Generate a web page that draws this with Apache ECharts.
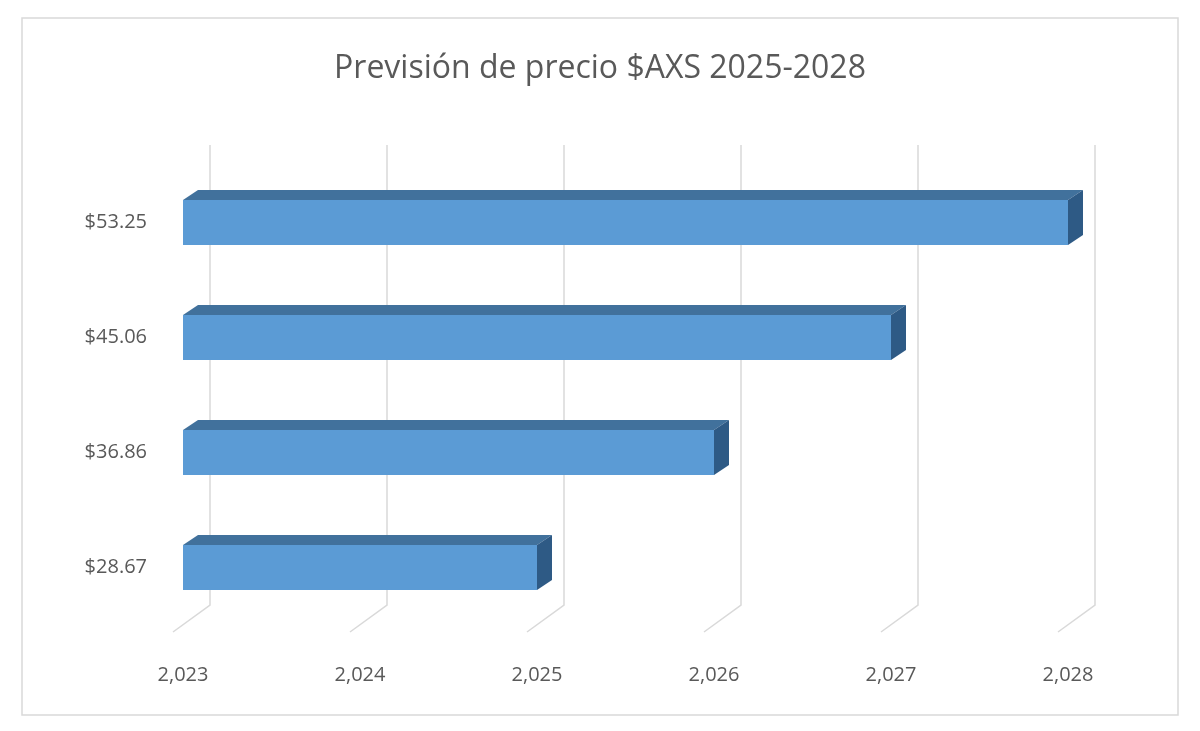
<!DOCTYPE html>
<html>
<head>
<meta charset="utf-8">
<script src="https://cdn.jsdelivr.net/npm/echarts@6/dist/echarts.min.js"></script>
<style>html,body{margin:0;background:#fff}#main{width:1200px;height:731px}</style>
</head>
<body>
<div id="main"></div>
<script>
var categories = ['$28.67', '$36.86', '$45.06', '$53.25'];
var years = [2025, 2026, 2027, 2028];
var ticks = [2023, 2024, 2025, 2026, 2027, 2028];

var chart = echarts.init(document.getElementById('main'));

function renderBar(params, api) {
  var idx = api.value(0);
  var start = api.coord([2023, idx]);
  var end = api.coord([api.value(1), idx]);
  var h = api.size([0, 1])[1] * 0.39;
  var y0 = start[1] - h / 2;
  var dx = 15, dy = -10;
  return {
    type: 'group',
    children: [
      { type: 'rect', shape: { x: start[0], y: y0, width: end[0] - start[0], height: h },
        style: { fill: '#5b9bd5' } },
      { type: 'polygon', shape: { points: [[start[0], y0], [start[0] + dx, y0 + dy], [end[0] + dx, y0 + dy], [end[0], y0]] },
        style: { fill: '#41719c' } },
      { type: 'polygon', shape: { points: [[end[0], y0], [end[0] + dx, y0 + dy], [end[0] + dx, y0 + h + dy], [end[0], y0 + h]] },
        style: { fill: '#2e5a85' } }
    ]
  };
}

function renderGrid(params, api) {
  var p = api.coord([api.value(0), 0]);
  var bottom = params.coordSys.y + params.coordSys.height;
  var top = params.coordSys.y;
  return {
    type: 'polyline',
    shape: { points: [[p[0] + 27, top - 20], [p[0] + 27, bottom - 20], [p[0] - 10, bottom + 7]] },
    style: { stroke: '#d9d9d9', lineWidth: 1.5, fill: null },
    z2: 0
  };
}

chart.setOption({
  backgroundColor: '#fff',
  title: {
    text: 'Previsión de precio $AXS 2025-2028',
    left: 'center', top: 48,
    textStyle: { fontFamily: 'Open Sans', fontSize: 32, fontWeight: 'normal', color: '#595959' }
  },
  graphic: [{
    type: 'rect', shape: { x: 22, y: 18, width: 1156, height: 697 },
    style: { fill: null, stroke: '#d9d9d9', lineWidth: 1.5 }, z: -1
  }],
  grid: { left: 183, right: 132, top: 165, bottom: 106 },
  xAxis: {
    type: 'value', min: 2023, max: 2028, interval: 1,
    axisLine: { show: false }, axisTick: { show: false }, splitLine: { show: false },
    axisLabel: { margin: 40, color: '#595959', fontSize: 20, fontFamily: 'Open Sans' }
  },
  yAxis: {
    type: 'category', data: categories,
    axisLine: { show: false }, axisTick: { show: false },
    axisLabel: { margin: 36, color: '#595959', fontSize: 20, fontFamily: 'Open Sans' }
  },
  series: [
    { type: 'custom', renderItem: renderGrid, data: ticks.map(function (t) { return [t]; }), z: 1, silent: true },
    { type: 'custom', renderItem: renderBar, encode: { x: 1, y: 0 },
      data: years.map(function (v, i) { return [i, v]; }), z: 2 }
  ]
});
</script>
</body>
</html>
